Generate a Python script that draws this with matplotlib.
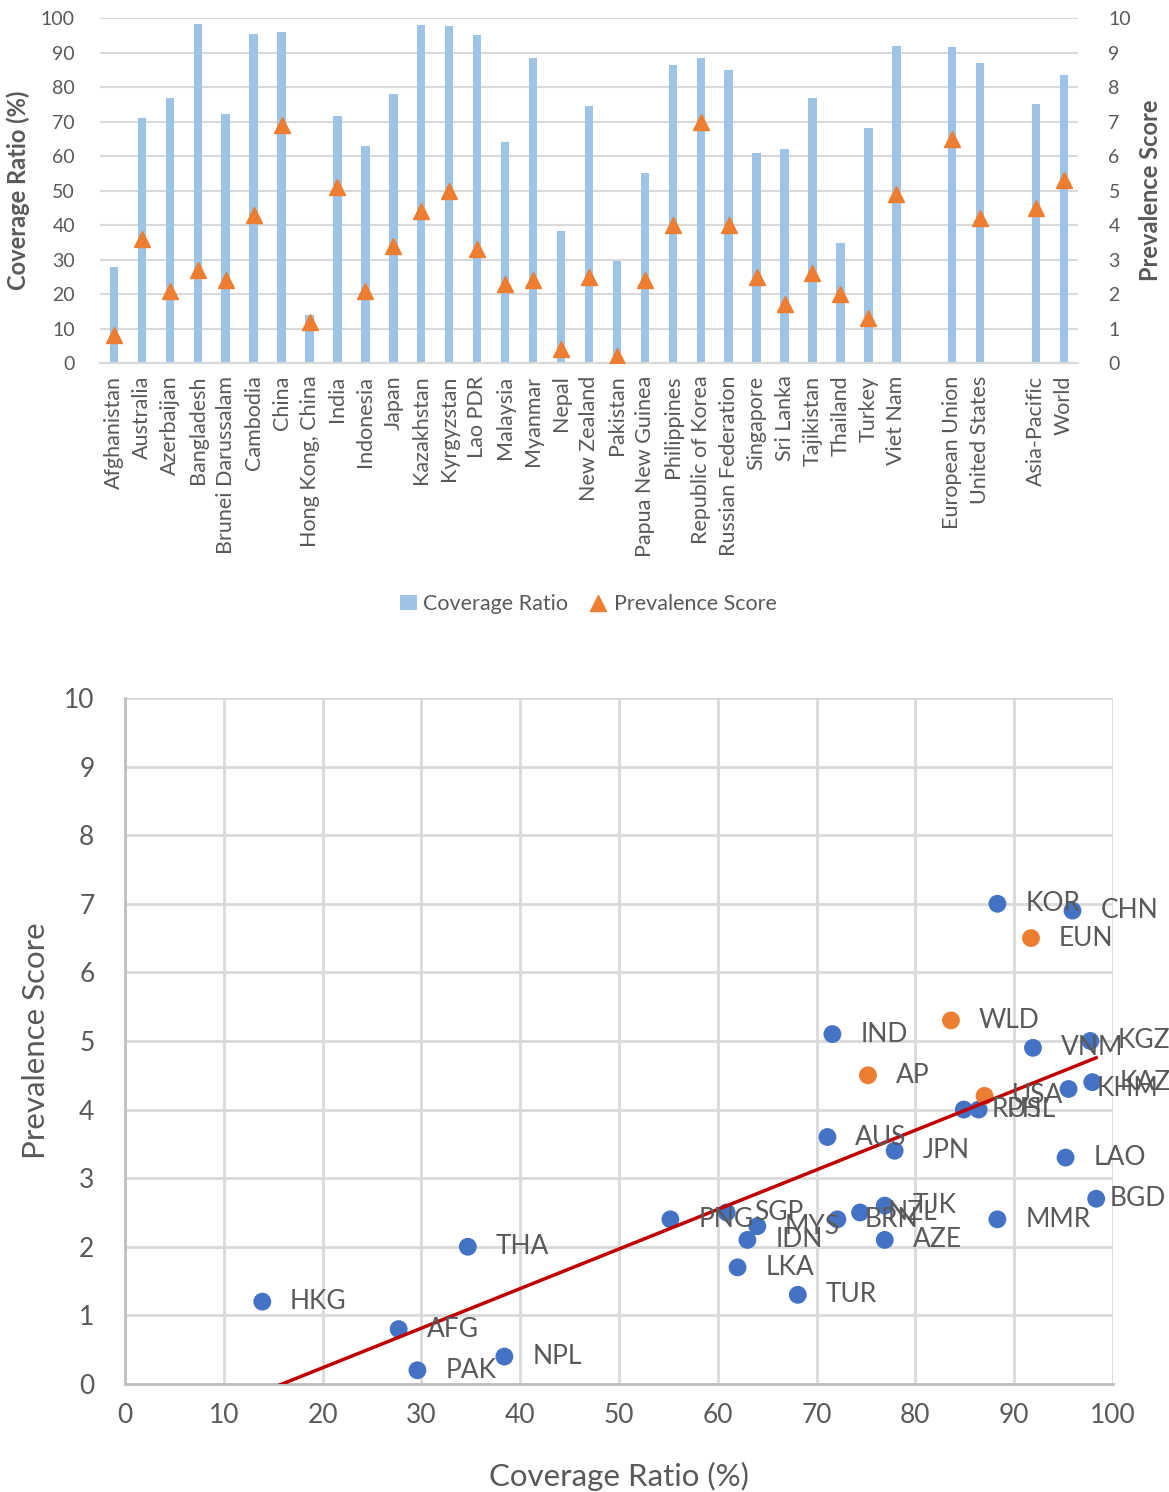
import numpy as np
import matplotlib.pyplot as plt

plt.rcParams['font.family'] = ['Lato', 'DejaVu Sans']

countries = ["Afghanistan", "Australia", "Azerbaijan", "Bangladesh", "Brunei Darussalam",
             "Cambodia", "China", "Hong Kong, China", "India", "Indonesia", "Japan",
             "Kazakhstan", "Kyrgyzstan", "Lao PDR", "Malaysia", "Myanmar", "Nepal",
             "New Zealand", "Pakistan", "Papua New Guinea", "Philippines",
             "Republic of Korea", "Russian Federation", "Singapore", "Sri Lanka",
             "Tajikistan", "Thailand", "Turkey", "Viet Nam",
             "European Union", "United States", "Asia-Pacific", "World"]
codes = ["AFG", "AUS", "AZE", "BGD", "BRN", "KHM", "CHN", "HKG", "IND", "IDN", "JPN",
         "KAZ", "KGZ", "LAO", "MYS", "MMR", "NPL", "NZL", "PAK", "PNG", "PHL", "KOR",
         "RUS", "SGP", "LKA", "TJK", "THA", "TUR", "VNM", "EUN", "USA", "AP", "WLD"]
# 0 = economies, 1 = comparators, 2 = aggregates
group = [0] * 29 + [1, 1, 2, 2]
coverage = [27.7, 71.1, 76.9, 98.3, 72.1, 95.5, 95.9, 13.9, 71.6, 63.0, 77.9,
            97.9, 97.7, 95.2, 64.0, 88.3, 38.4, 74.4, 29.6, 55.2, 86.4,
            88.3, 84.9, 60.9, 62.0, 76.9, 34.7, 68.1, 91.9,
            91.7, 87.0, 75.2, 83.6]
prevalence = [0.8, 3.6, 2.1, 2.7, 2.4, 4.3, 6.9, 1.2, 5.1, 2.1, 3.4,
              4.4, 5.0, 3.3, 2.3, 2.4, 0.4, 2.5, 0.2, 2.4, 4.0,
              7.0, 4.0, 2.5, 1.7, 2.6, 2.0, 1.3, 4.9,
              6.5, 4.2, 4.5, 5.3]
highlight = ["EUN", "USA", "AP", "WLD"]

blue_bar = "#9DC3E6"
orange = "#ED7D31"
blue_dot = "#4472C4"
grid_c = "#D9D9D9"
txt = "#595959"

pos = np.arange(len(countries)) + np.array(group)

fig = plt.figure(figsize=(11.69, 14.92), dpi=100)

# --- bar + triangle chart ---
ax1 = fig.add_axes([0.0855, 0.7567, 0.8366, 0.2312])
ax1.bar(pos, coverage, width=0.3, color=blue_bar, zorder=2, label="Coverage Ratio")
ax1.set_xlim(-0.5, pos[-1] + 0.5)
ax1.set_ylim(0, 100)
ax1.set_yticks(np.arange(0, 101, 10))
ax1.yaxis.grid(True, color=grid_c, lw=1.5, zorder=0)
ax1.set_axisbelow(True)
ax1.set_xticks(pos)
ax1.set_xticklabels(countries, rotation=90, fontsize=15.5, color=txt)
ax1.tick_params(axis='y', length=0, labelsize=14, labelcolor=txt, pad=18)
ax1.tick_params(axis='x', length=0, pad=9)
for s in ["top", "left", "right"]:
    ax1.spines[s].set_visible(False)
ax1.spines["bottom"].set_color(grid_c)
ax1.spines["bottom"].set_linewidth(1.5)
ax1.set_ylabel("Coverage Ratio (%)", fontsize=17, fontweight="bold", color=txt, labelpad=8)

ax2 = ax1.twinx()
ax2.plot(pos, prevalence, linestyle="none", marker="^", markersize=11, color=orange,
         zorder=3, label="Prevalence Score")
ax2.set_ylim(0, 10)
ax2.set_yticks(np.arange(0, 11, 1))
ax2.tick_params(axis='y', length=0, labelsize=14, labelcolor=txt, pad=22)
for s in ["top", "left", "right", "bottom"]:
    ax2.spines[s].set_visible(False)
ax2.set_ylabel("Prevalence Score", fontsize=17, fontweight="bold", color=txt,
               rotation=90, labelpad=6)

h1, l1 = ax1.get_legend_handles_labels()
h2, l2 = ax2.get_legend_handles_labels()
fig.legend(h1 + h2, l1 + l2, loc="center", bbox_to_anchor=(0.503, 0.595), ncol=2,
           frameon=False, fontsize=15.5, labelcolor=txt, handlelength=0.8,
           handletextpad=0.3, columnspacing=1.0)

# --- scatter with trend line ---
ax3 = fig.add_axes([0.1069, 0.0724, 0.8452, 0.4598])
cov = np.array(coverage)
prev = np.array(prevalence)
cols = [orange if c in highlight else blue_dot for c in codes]
ax3.scatter(cov, prev, s=165, color=cols, zorder=3, linewidths=0)
for x, y, c in zip(cov, prev, codes):
    # labels near the right edge sit closer to their dot
    dx = 10 if x > 98 else 20
    ax3.annotate(c, (x, y), xytext=(dx, 0), textcoords="offset points",
                 va="center", ha="left", fontsize=19, color=txt, zorder=4)

k, b = np.polyfit(cov, prev, 1)
xs = np.array([cov.min(), cov.max()])
ax3.plot(xs, k * xs + b, color="#C00000", lw=2.5, zorder=3)

ax3.set_xlim(0, 100)
ax3.set_ylim(0, 10)
ax3.set_xticks(np.arange(0, 101, 10))
ax3.set_yticks(np.arange(0, 11, 1))
ax3.grid(True, color=grid_c, lw=2, zorder=0)
ax3.set_axisbelow(True)
ax3.tick_params(length=0, labelsize=19, labelcolor=txt)
ax3.tick_params(axis='x', pad=14)
ax3.tick_params(axis='y', pad=22)
for s in ["top", "right"]:
    ax3.spines[s].set_visible(False)
for s in ["left", "bottom"]:
    ax3.spines[s].set_color("#BFBFBF")
    ax3.spines[s].set_linewidth(2)
ax3.set_xlabel("Coverage Ratio (%)", fontsize=22.5, color=txt, labelpad=24)
ax3.set_ylabel("Prevalence Score", fontsize=22.5, color=txt, labelpad=10)

fig.savefig("out.png", dpi=100)
